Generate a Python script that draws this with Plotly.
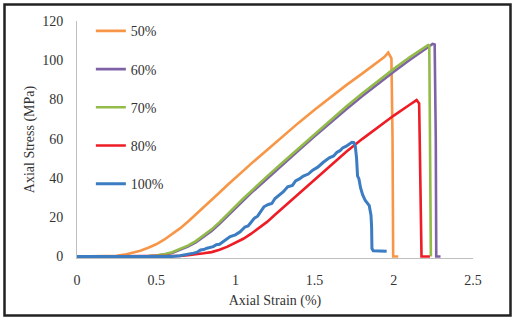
import plotly.graph_objects as go

# ---- data ----
s50 = [0, 0.2, 0.25, 0.3, 0.35, 0.4, 0.45, 0.5, 0.55, 0.6, 0.65, 0.7, 0.75, 0.8, 0.85, 0.9, 0.95, 1.0,
       1.1, 1.2, 1.3, 1.4, 1.5, 1.6, 1.7, 1.8, 1.9, 1.94, 1.965, 1.985, 1.992, 1.996, 2.028]
p50 = [0, 0, 0.3, 0.9, 1.8, 2.9, 4.4, 6.2, 8.5, 11.2, 14.3, 17.7, 21.3, 25.0, 28.8, 32.6, 36.4, 40.1,
       47.3, 54.3, 61.3, 68.2, 74.8, 81.2, 87.3, 93.2, 99.0, 101.6, 103.9, 101.0, 60.0, 0, 0]

s60 = [0, 0.4, 0.45, 0.5, 0.55, 0.6, 0.65, 0.7, 0.75, 0.8, 0.85, 0.9, 0.95, 1.0, 1.05, 1.1, 1.2, 1.3,
       1.4, 1.5, 1.6, 1.7, 1.8, 1.9, 2.0, 2.1, 2.2, 2.245, 2.258, 2.265, 2.268, 2.295]
p60 = [0, 0, 0.1, 0.4, 0.9, 1.8, 3.2, 5.0, 7.2, 9.9, 13.0, 16.6, 20.4, 24.5, 28.5, 32.4, 39.8, 47.0,
       54.1, 61.2, 68.2, 75.0, 81.6, 88.0, 94.2, 100.1, 105.7, 108.3, 108.0, 60.0, 0, 0]

s70 = [0, 0.4, 0.45, 0.5, 0.55, 0.6, 0.65, 0.7, 0.75, 0.8, 0.85, 0.9, 0.95, 1.0, 1.05, 1.1, 1.2, 1.3,
       1.4, 1.5, 1.6, 1.7, 1.8, 1.9, 2.0, 2.1, 2.2, 2.217, 2.224, 2.227, 2.23, 2.234]
p70 = [0, 0, 0.2, 0.5, 1.1, 2.1, 3.6, 5.5, 7.8, 10.6, 13.8, 17.5, 21.3, 25.5, 29.5, 33.4, 40.8, 48.0,
       55.2, 62.5, 69.6, 76.4, 83.0, 89.5, 95.6, 101.5, 106.9, 107.8, 107.5, 60.0, 0, 0]

s80 = [0, 0.55, 0.6, 0.65, 0.7, 0.75, 0.8, 0.85, 0.9, 0.95, 1.0, 1.05, 1.1, 1.15, 1.2, 1.25, 1.3, 1.4,
       1.5, 1.6, 1.7, 1.8, 1.9, 2.0, 2.1, 2.144, 2.16, 2.165, 2.175, 2.228]
p80 = [0, 0, 0.1, 0.3, 0.6, 1.0, 1.6, 2.2, 3.4, 5.0, 6.8, 9.0, 11.6, 14.5, 17.6, 21.2, 24.8, 31.9,
       39.0, 46.2, 53.3, 59.8, 66.0, 71.8, 77.3, 79.7, 78.0, 40.0, 0, 0]

s100 = [0, 0.6, 0.65, 0.7, 0.735, 0.76, 0.78, 0.8, 0.82, 0.86, 0.88, 0.9, 0.93, 0.967, 1.0, 1.03, 1.06,
        1.08, 1.093, 1.12, 1.14, 1.156, 1.18, 1.208, 1.23, 1.25, 1.28, 1.303, 1.33, 1.36, 1.38, 1.404,
        1.429, 1.46, 1.488, 1.52, 1.555, 1.593, 1.62, 1.64, 1.66, 1.677, 1.70, 1.72, 1.735, 1.748,
        1.757, 1.765, 1.771, 1.78, 1.79, 1.803, 1.82, 1.845, 1.856, 1.86, 1.862, 1.87, 1.955]
p100 = [0, 0, 0.4, 1.0, 1.7, 2.2, 3.3, 3.5, 4.2, 5.0, 6.0, 6.2, 8.0, 10.1, 11.0, 12.6, 15.0,
        15.5, 16.8, 19.5, 20.5, 22.7, 25.3, 26.5, 27.0, 29.5, 31.5, 33.0, 35.5, 36.2, 38.5, 39.5,
        41.0, 42.0, 44.0, 45.5, 48.0, 50.3, 51.2, 53.0, 53.9, 55.3, 56.2, 57.5, 58.2, 58.0,
        56.1, 50.0, 41.0, 39.5, 35.0, 31.5, 28.5, 25.9, 21.0, 15.0, 4.0, 2.9, 2.7]

series = [
    ("50%", s50, p50, "#F79646", 2.6),
    ("60%", s60, p60, "#7F62A6", 2.6),
    ("70%", s70, p70, "#93BB4A", 2.6),
    ("80%", s80, p80, "#EE1C25", 2.6),
    ("100%", s100, p100, "#3B7CC2", 3.0),
]

x_ticks = [0, 0.5, 1, 1.5, 2, 2.5]
x_ticklabels = ["0", "0.5", "1", "1.5", "2", "2.5"]
y_ticks = [0, 20, 40, 60, 80, 100, 120]

FONT = "Liberation Serif, Times New Roman, serif"

fig = go.Figure()
for i, (name, xs, ys, col, w) in enumerate(series):
    fig.add_trace(go.Scatter(
        x=xs, y=ys, mode="lines", name=name, legendgroup=f"g{i}",
        line=dict(color=col, width=w, shape="linear"),
    ))

L, R, T, B = 77, 40, 21, 62
W, H = 513, 320
pw, ph = W - L - R, H - T - B

def px_x(p):
    return (p - L) / pw

def px_y(p):
    return (H - B - p) / ph

fig.update_layout(
    width=W, height=H,
    margin=dict(l=L, r=R, t=T, b=B, autoexpand=False),
    paper_bgcolor="white", plot_bgcolor="white",
    font=dict(family=FONT, size=14, color="#333333"),
    showlegend=True,
    legend=dict(
        x=0.035, y=1.024, xanchor="left", yanchor="top", maxheight=280,
        bgcolor="rgba(0,0,0,0)", tracegroupgap=17,
        font=dict(family=FONT, size=14, color="#333333"),
        itemwidth=30,
    ),
    xaxis=dict(
        range=[0, 2.5], tickvals=x_ticks, ticktext=x_ticklabels,
        showgrid=False, zeroline=False, showline=True, linecolor="#BFBFBF", linewidth=1,
        ticks="", ticklabelstandoff=9, layer="below traces", automargin=False,
        title=dict(text="Axial Strain (%)", font=dict(family=FONT, size=14, color="#333333"), standoff=8),
    ),
    yaxis=dict(
        range=[-0.8, 120], tickvals=y_ticks,
        showgrid=False, zeroline=False, showline=True, linecolor="#BFBFBF", linewidth=1,
        ticks="", ticklabelstandoff=10, layer="below traces", automargin=False,
        title=dict(text="Axial Stress (MPa)", font=dict(family=FONT, size=14, color="#333333"), standoff=4),
    ),
    shapes=[dict(
        type="rect", xref="paper", yref="paper",
        x0=px_x(4.5), x1=px_x(510.5), y0=px_y(315.5), y1=px_y(4.5),
        line=dict(color="#222222", width=2.5), fillcolor="rgba(0,0,0,0)", layer="below",
    )],
)

fig.write_html(
    "out.html",
    config={"displayModeBar": False},
    post_script="document.body.style.margin='0';document.body.style.padding='0';",
)
